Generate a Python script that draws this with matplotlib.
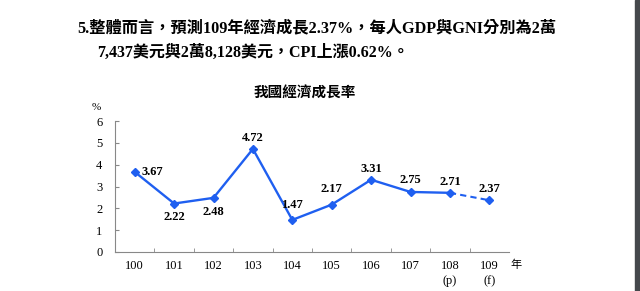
import matplotlib
matplotlib.use("Agg")
import matplotlib.pyplot as plt
from matplotlib.patches import Rectangle

years = ["100", "101", "102", "103", "104", "105", "106", "107", "108\n(p)", "109\n(f)"]
growth = [3.67, 2.22, 2.48, 4.72, 1.47, 2.17, 3.31, 2.75, 2.71, 2.37]
# label placement: offset in points (dx, dy)
label_off = [(13, 0), (0, -9.5), (0, -10), (0, 8), (0, 11), (0, 11), (0, 7.5), (0, 8.5), (0, 8), (0, 8)]

headline1 = "5.整體而言，預測109年經濟成長2.37%，每人GDP與GNI分別為2萬"
headline2 = "7,437美元與2萬8,128美元，CPI上漲0.62%。"
chart_title = "我國經濟成長率"

fam = ["Liberation Serif", "Noto Sans CJK TC"]
blue = "#1f5ff0"

fig = plt.figure(figsize=(6.4, 2.91), dpi=100)
fig.patch.set_facecolor("white")

fig.text(77 / 640, 1 - 28 / 291, headline1, family=fam, fontsize=11.7, fontweight="bold", va="center", ha="left")
fig.text(97 / 640, 1 - 53 / 291, headline2, family=fam, fontsize=11.5, fontweight="bold", va="center", ha="left")
fig.text(305 / 640, 1 - 94 / 291, chart_title, family=fam, fontsize=10.5, fontweight="bold", va="center", ha="center")
fig.patches.append(Rectangle((635 / 640, 0), 5 / 640, 1, transform=fig.transFigure, color="#45484c", zorder=5))

ax = fig.add_axes([115 / 640, 39 / 291, 394 / 640, 131 / 291])
x = list(range(len(years)))
ax.plot(x[:-1], growth[:-1], color=blue, lw=1.7, marker="D", ms=4.5, zorder=3)
ax.plot(x[-2:], growth[-2:], color=blue, lw=1.5, ls=(0, (3, 2)), zorder=2)
ax.plot(x[-1:], growth[-1:], color=blue, marker="D", ms=4.5, zorder=3)

for xi, v, (dx, dy) in zip(x, growth, label_off):
    ax.annotate(f"{v:.2f}", (xi, v), xytext=(dx, dy), textcoords="offset points",
                ha="center", va="center", family=fam, fontsize=9, fontweight="bold")

ax.set_xlim(-0.5, len(years) - 0.5)
ax.set_ylim(0, 6)
ax.set_yticks(range(0, 7))
ax.set_xticks(x)
ax.set_xticklabels(years, family=fam, fontsize=9, linespacing=1.3)
ax.set_xticks([i + 0.5 for i in x[:-1]], minor=True)
for lab in ax.get_yticklabels():
    lab.set_family(fam)
    lab.set_fontsize(9)
ax.tick_params(axis="x", which="major", length=0, pad=6)
ax.tick_params(axis="x", which="minor", direction="in", length=3, color="#888888")
ax.tick_params(axis="y", direction="in", length=3, color="#888888", pad=9)
for s in ["top", "right"]:
    ax.spines[s].set_visible(False)
for s in ["left", "bottom"]:
    ax.spines[s].set_color("#888888")
    ax.spines[s].set_linewidth(0.8)

ax.text(-0.035, 1.1, "%", transform=ax.transAxes, family=fam, fontsize=8, ha="right", va="center")
ax.text(1.004, -0.1, "年", transform=ax.transAxes, family=fam, fontsize=8, ha="left", va="center")

fig.savefig("out.png", dpi=100)
